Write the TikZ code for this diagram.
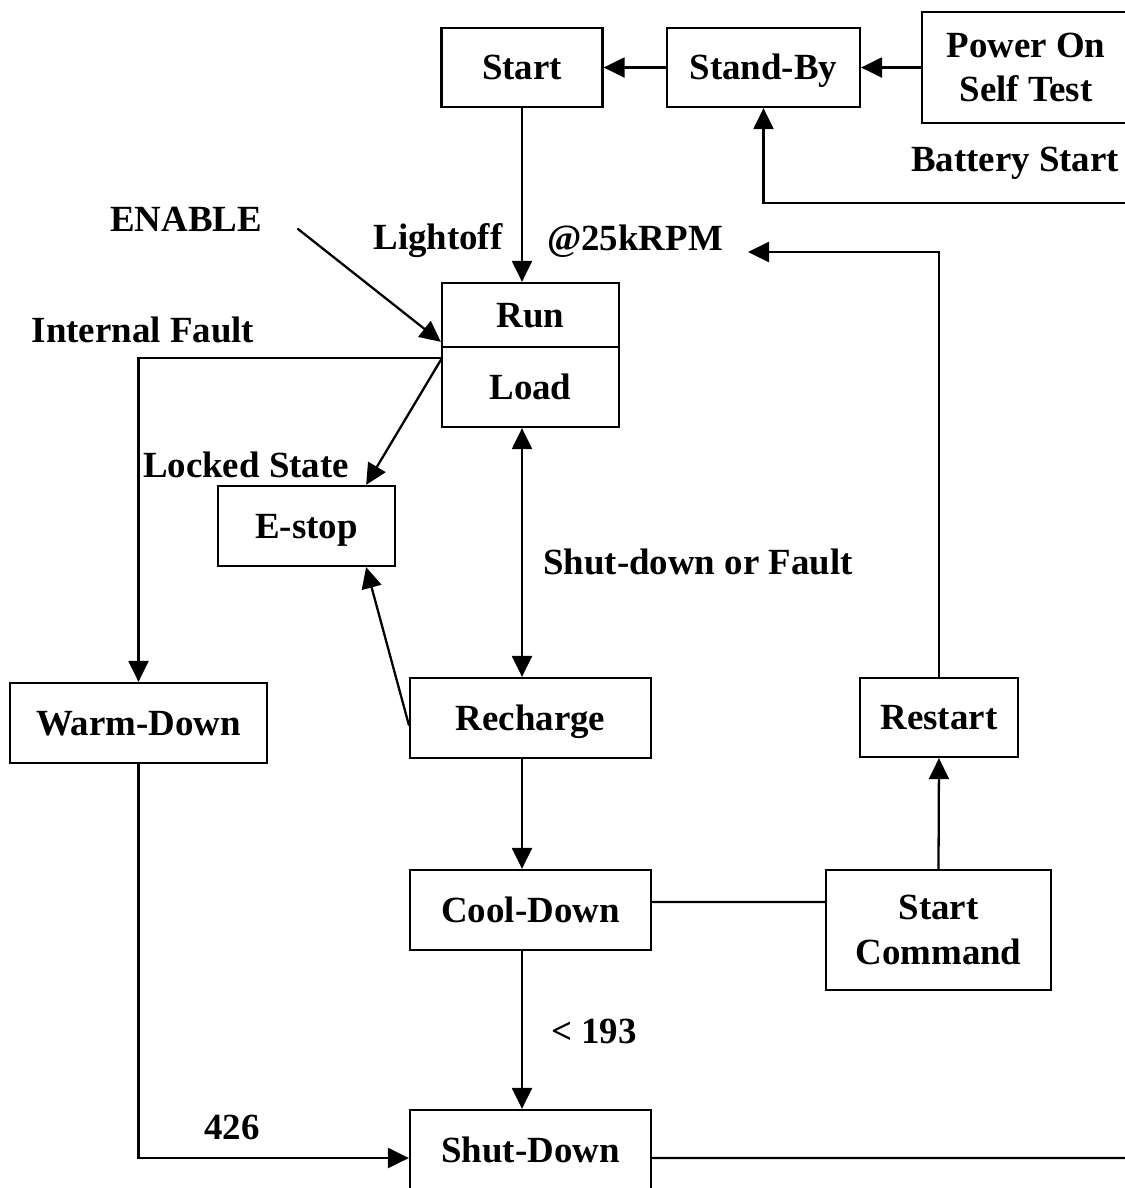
\documentclass[tikz,border=0pt]{standalone}
\usepackage{fontspec}
\setmainfont{Liberation Serif}
\usepackage{tikz}
\usetikzlibrary{arrows.meta}

\begin{document}
\begin{tikzpicture}[x=0.02cm,y=-0.02cm,line cap=round,
    font=\fontsize{21}{25.5}\selectfont\bfseries,
    state/.style={draw,line width=1.3pt,inner sep=0pt,minimum height=1.6cm,align=center},
    oneline/.style={text height=14pt,text depth=0pt},
    lbl/.style={inner sep=1pt},
    arr/.style={line width=1.3pt,-{Triangle[length=0.42cm,width=0.4cm]}},
    arrboth/.style={line width=1.3pt,{Triangle[length=0.42cm,width=0.4cm]}-{Triangle[length=0.42cm,width=0.4cm]}},
    link/.style={line width=1.3pt}]
  \useasboundingbox (0,0) rectangle (1125,1188);
  \clip (0,0) rectangle (1125,1188);

  % --- top row ---
  \node[state,oneline,minimum width=3.22cm,minimum height=1.58cm] (start) at (522,67.5) {Start};
  \node[state,oneline,minimum width=3.86cm,minimum height=1.58cm] (standby) at (763.5,67.5) {Stand-By};
  \node[state,minimum width=4.16cm,minimum height=2.22cm] (post) at (1026,67.5) {Power On\\Self Test};
  \node[lbl] (battery) at (1015,163) {Battery Start};

  % --- run / load ---
  \node[state,oneline,minimum width=3.54cm,minimum height=1.28cm] (run) at (530.5,315) {Run};
  \node[state,oneline,minimum width=3.54cm] (load) at (530.5,387) {Load};
  \node[lbl] (enable) at (186,219) {ENABLE};
  \node[lbl] (lightoff) at (438,241) {Lightoff};
  \node[lbl] (rpm) at (635,241) {@25kRPM};
  \node[lbl] (intfault) at (143,330) {Internal Fault};
  \node[lbl] (locked) at (246,465) {Locked State};
  \node[lbl] (sdfault) at (698,562) {Shut-down or Fault};

  % --- middle row ---
  \node[state,oneline,minimum width=3.54cm] (estop) at (306.5,526) {E-stop};
  \node[state,oneline,minimum width=5.14cm] (warm) at (138.5,723) {Warm-Down};
  \node[state,oneline,minimum width=4.82cm] (recharge) at (530.5,718) {Recharge};
  \node[state,oneline,minimum width=3.16cm,minimum height=1.58cm] (restart) at (939,717.5) {Restart};

  % --- lower rows ---
  \node[state,oneline,minimum width=4.82cm] (cool) at (530.5,910) {Cool-Down};
  \node[state,minimum width=4.5cm,minimum height=2.4cm] (cmd) at (938.5,930) {Start\\Command};
  \node[lbl] (lt193) at (594,1031) {< 193};
  \node[state,oneline,minimum width=4.82cm] (shut) at (530.5,1150) {Shut-Down};
  \node[lbl] (n426) at (232,1127) {426};

  % free ends
  \coordinate (battin) at (1140,203);
  \coordinate (enfrom) at (298,229);
  \coordinate (fork) at (442,358);
  \coordinate (back) at (748,252);
  \coordinate (shutout) at (1140,1158);

  % --- connectors ---
  \draw[arr] (standby) -- (start);
  \draw[arr] (post.west |- standby) -- (standby.east);
  \draw[arr] (battin) -| (standby.south);
  \draw[arr] (start.south) -- (start.south |- run.north);
  \draw[arr] (enfrom) -- ([yshift=0.08cm]load.north west);
  \draw[arr] (fork) -| (warm.north);
  \draw[arr] (fork) -- ([xshift=-0.6cm]estop.north east);
  \draw[arrboth] ([xshift=-0.17cm]load.south) -- ([xshift=-0.17cm]recharge.north);
  \draw[arr] ([yshift=-0.14cm]recharge.west) -- ([xshift=-0.6cm]estop.south east);
  \draw[arr] ([xshift=-0.17cm]recharge.south) -- ([xshift=-0.17cm]cool.north);
  \draw[link] ([yshift=0.16cm]cool.east) -- ([yshift=0.56cm]cmd.west);
  \draw[arr] (cmd.north) -- (restart.south);
  \draw[arr] (restart.north) |- (back);
  \draw[arr] ([xshift=-0.17cm]cool.south) -- ([xshift=-0.17cm]shut.north);
  \draw[arr] (warm.south) |- ([yshift=-0.16cm]shut.west);
  \draw[link] ([yshift=-0.16cm]shut.east) -- (shutout);
\end{tikzpicture}
\end{document}
